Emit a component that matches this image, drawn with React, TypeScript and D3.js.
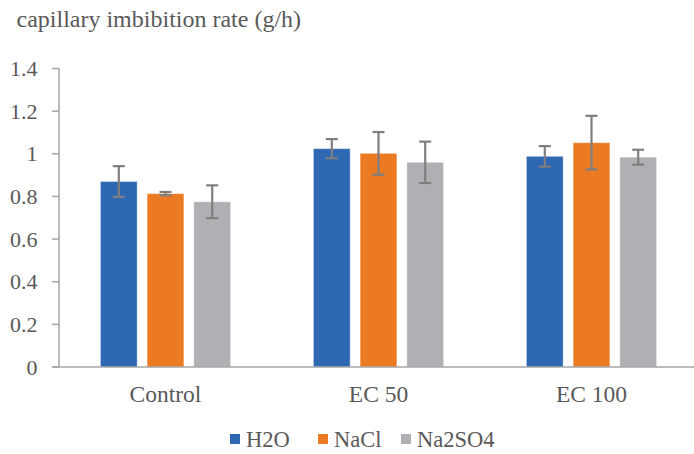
import React from "react";
import * as d3 from "d3";

const categories = ["Control", "EC 50", "EC 100"];
const seriesNames = ["H2O", "NaCl", "Na2SO4"];
const seriesColors = ["#2F68B2", "#EC7A23", "#AFB0B3"];
const h2oValues = [0.87, 1.024, 0.988];
const naclValues = [0.813, 1.002, 1.052];
const na2so4Values = [0.775, 0.96, 0.984];
const h2oErrors = [0.072, 0.045, 0.048];
const naclErrors = [0.008, 0.1, 0.126];
const na2so4Errors = [0.077, 0.097, 0.035];
const yTicks = [0, 0.2, 0.4, 0.6, 0.8, 1, 1.2, 1.4];

const W = 694;
const H = 454;
const FONT = "'Liberation Serif', 'Times New Roman', serif";

export default function App() {
  const values = [h2oValues, naclValues, na2so4Values];
  const errors = [h2oErrors, naclErrors, na2so4Errors];
  const x = d3.scaleBand<string>().domain(categories).range([59, 698]).padding(0);
  const xs = d3
    .scaleBand<string>()
    .domain(seriesNames)
    .range([0, x.bandwidth()])
    .paddingInner(0.214)
    .paddingOuter(0.887);
  const y = d3.scaleLinear().domain([0, 1.4]).range([367, 68.5]);
  const fmt = (v: number) => (v === 0 ? "0" : v === 1 ? "1" : String(v));

  const legendX = [230, 318, 401];
  const textStyle = { fontFamily: FONT };

  return (
    <svg width={W} height={H} style={{ position: "absolute", left: 0, top: 0, background: "#fff" }}>
      <text x={16.5} y={27} style={textStyle} fontSize={24} fill="#595959">
        capillary imbibition rate (g/h)
      </text>
      {/* y axis */}
      <line x1={59} x2={59} y1={y(1.4)} y2={y(0)} stroke="#A6A6A6" strokeWidth={1.5} />
      {yTicks.map((t) => (
        <g key={t}>
          <line x1={52} x2={59} y1={y(t)} y2={y(t)} stroke="#A6A6A6" strokeWidth={1.5} />
          <text
            x={37.5}
            y={y(t)}
            dy="0.35em"
            textAnchor="end"
            style={textStyle}
            fontSize={22}
            fill="#595959"
          >
            {fmt(t)}
          </text>
        </g>
      ))}
      {/* bars */}
      {categories.map((c, ci) => (
        <g key={c}>
          {seriesNames.map((s, si) => {
            const v = values[si][ci];
            const e = errors[si][ci];
            const bx = (x(c) ?? 0) + (xs(s) ?? 0);
            const bw = xs.bandwidth();
            const cx = bx + bw / 2;
            return (
              <g key={s}>
                <rect
                  x={bx}
                  y={y(v)}
                  width={bw}
                  height={y(0) - y(v)}
                  fill={seriesColors[si]}
                  stroke="#ffffff"
                  strokeOpacity={0.35}
                  strokeWidth={1}
                />
                <line x1={cx} x2={cx} y1={y(v + e)} y2={y(v - e)} stroke="#7F7F7F" strokeWidth={2.2} />
                <line x1={cx - 6} x2={cx + 6} y1={y(v + e)} y2={y(v + e)} stroke="#7F7F7F" strokeWidth={2.2} />
                <line x1={cx - 6} x2={cx + 6} y1={y(v - e)} y2={y(v - e)} stroke="#7F7F7F" strokeWidth={2.2} />
              </g>
            );
          })}
          <text
            x={(x(c) ?? 0) + x.bandwidth() / 2}
            y={402}
            textAnchor="middle"
            style={textStyle}
            fontSize={23.5}
            fill="#595959"
          >
            {c}
          </text>
        </g>
      ))}
      {/* x axis */}
      <line x1={52} x2={694} y1={y(0)} y2={y(0)} stroke="#A6A6A6" strokeWidth={1.5} />
      {/* legend */}
      {seriesNames.map((s, si) => (
        <g key={s}>
          <rect x={legendX[si]} y={434} width={10} height={10} fill={seriesColors[si]} />
          <text x={legendX[si] + 16} y={447} style={textStyle} fontSize={22.5} fill="#595959">
            {s}
          </text>
        </g>
      ))}
    </svg>
  );
}
